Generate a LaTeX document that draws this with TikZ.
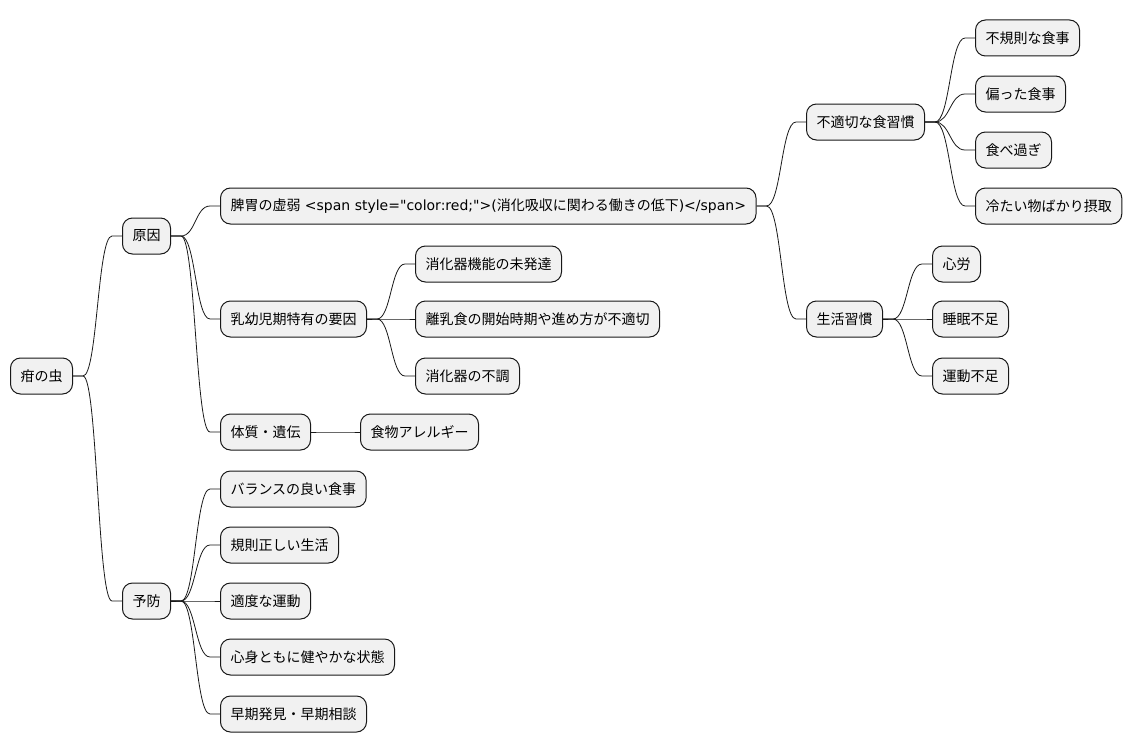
\documentclass[tikz,border=0pt]{standalone}
\usepackage{fontspec}
\setmainfont{DejaVu Sans}
\newfontfamily\latfont{DejaVu Sans}
\newfontfamily\jpfont{Noto Sans CJK JP}
\usetikzlibrary{calc}
\definecolor{topicfill}{HTML}{F1F1F1}
\definecolor{topicline}{HTML}{181818}
\tikzset{
  topic/.style={draw=topicline, fill=topicfill, line width=1pt, rounded corners=10pt,
    minimum height=36pt, inner xsep=10pt, inner ysep=0pt, anchor=west,
    font=\fontsize{14pt}{16pt}\selectfont\jpfont},
  branch/.style={draw=topicline, line width=0.8pt,
    to path={let \p1=(\tikztostart.east), \p2=(\tikztotarget.west), \n1={(\x1+\x2)/2} in
      (\p1) -- (\x1+10pt,\y1) .. controls (\n1,\y1) and (\n1,\y2) .. (\x2-10pt,\y2) -- (\p2)}}
}
\begin{document}
\begin{tikzpicture}[x=1pt,y=-1pt]
        \useasboundingbox (0,0) rectangle (1131,752);

        \begin{scope}[every node/.style={topic}]
          \node (root)     at (10,376)  {疳の虫};
          \node (cause)    at (122,236) {原因};
          \node (prevent)  at (122,601) {予防};
          \node (spleen)   at (220,206) {脾胃の虚弱{\latfont\ <span style="color:red;">(}消化吸収に関わる働きの低下{\latfont )</span>}};
          \node (infant)   at (220,319) {乳幼児期特有の要因};
          \node (constit)  at (220,432) {体質・遺伝};
          \node (allergy)  at (360,432) {食物アレルギー};
          \node (digest)   at (415,264) {消化器機能の未発達};
          \node (weaning)  at (415,319) {離乳食の開始時期や進め方が不適切};
          \node (upset)    at (415,376) {消化器の不調};
          \node (diet)     at (806,122) {不適切な食習慣};
          \node (life)     at (806,319) {生活習慣};
          \node (irreg)    at (975,38)  {不規則な食事};
          \node (biased)   at (975,94)  {偏った食事};
          \node (overeat)  at (975,150) {食べ過ぎ};
          \node (cold)     at (975,206) {冷たい物ばかり摂取};
          \node (worry)    at (932,264) {心労};
          \node (sleep)    at (932,319) {睡眠不足};
          \node (exercise) at (932,376) {運動不足};
          \node (balance)  at (220,489) {バランスの良い食事};
          \node (regular)  at (220,545) {規則正しい生活};
          \node (moderate) at (220,601) {適度な運動};
          \node (healthy)  at (220,657) {心身ともに健やかな状態};
          \node (early)    at (220,714) {早期発見・早期相談};
        \end{scope}

        \begin{scope}[every edge/.style={branch}]
          \path (root)    edge (cause);
          \path (root)    edge (prevent);
          \path (cause)   edge (spleen);
          \path (cause)   edge (infant);
          \path (cause)   edge (constit);
          \path (constit) edge (allergy);
          \path (infant)  edge (digest);
          \path (infant)  edge (weaning);
          \path (infant)  edge (upset);
          \path (spleen)  edge (diet);
          \path (spleen)  edge (life);
          \path (diet)    edge (irreg);
          \path (diet)    edge (biased);
          \path (diet)    edge (overeat);
          \path (diet)    edge (cold);
          \path (life)    edge (worry);
          \path (life)    edge (sleep);
          \path (life)    edge (exercise);
          \path (prevent) edge (balance);
          \path (prevent) edge (regular);
          \path (prevent) edge (moderate);
          \path (prevent) edge (healthy);
          \path (prevent) edge (early);
        \end{scope}

      \end{tikzpicture}
\end{document}
